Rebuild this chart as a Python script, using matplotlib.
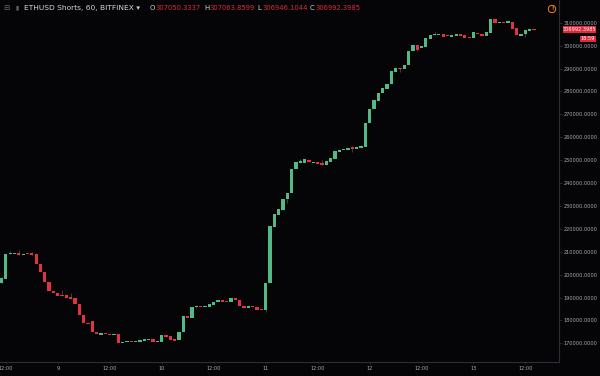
import matplotlib
matplotlib.use("Agg")
import matplotlib.pyplot as plt
from matplotlib.patches import Rectangle, Ellipse

# ---- data (hourly candles, ETHUSD Shorts, 60, BITFINEX) ----
opens = [196200, 198210, 208860, 209200, 209430, 208690, 209130, 209430, 208990, 204630,
         201000, 196900, 192840, 191960, 191090, 190960, 190080, 189650, 187160, 182360,
         179000, 179610, 175070, 173760, 174370, 174190, 173490, 174190, 170000, 170570,
         171140, 170700, 170700, 171140, 171750, 171880, 170440, 170570, 173630, 173190,
         171880, 171440, 175070, 181920, 181180, 185720, 186290, 185720, 185980, 186860,
         188170, 188910, 188470, 188170, 189650, 189040, 186290, 185550, 186290, 185850,
         184980, 184410, 196460, 220920, 226160, 228210, 232880, 235630, 246110, 248870,
         248870, 250040, 248870, 249170, 248870, 247860, 249300, 250610, 253670, 254280,
         254540, 255720, 254980, 255420, 255590, 266200, 272180, 275940, 279170, 281180,
         283100, 288600, 290220, 289780, 291660, 297640, 300390, 298950, 299520, 303010,
         304500, 304630, 305200, 304500, 303760, 304320, 305070, 304630, 303890, 303450,
         305630, 305200, 304320, 305630, 311750, 310000, 310310, 310000, 310310, 307560,
         304320, 304940, 306510, 307050.3337]
closes = [198640, 208860, 209430, 209260, 208690, 209130, 209100, 208690, 204630, 201260,
          196900, 192840, 191960, 190780, 190780, 189910, 189470, 187160, 182230, 179000,
          178560, 174940, 173930, 174370, 173930, 173490, 174060, 170130, 170700, 171140,
          170700, 171140, 171440, 171880, 171800, 170570, 171140, 173630, 172750, 171440,
          171000, 174800, 181920, 181180, 185850, 186290, 185720, 186290, 187160, 188170,
          188780, 188170, 188170, 189650, 188910, 186290, 185550, 186290, 185720, 184670,
          184410, 196460, 221220, 226460, 228520, 233150, 235500, 246110, 249040, 249480,
          250480, 249040, 249170, 248300, 247860, 249610, 250790, 253840, 254540, 254850,
          255280, 254850, 255590, 256030, 266330, 272450, 276250, 279430, 281350, 283230,
          288910, 290220, 289780, 291530, 297640, 300390, 298080, 299830, 303320, 304760,
          305070, 305070, 303890, 304190, 304760, 305070, 304320, 303450, 303450, 305810,
          304940, 304190, 305810, 311750, 310000, 310310, 310000, 310610, 307380, 304500,
          305200, 306810, 307250, 306992.3985]
# visible wick extremes (bar index -> price)
wick_high = {0: 199080, 2: 210310, 4: 210740, 7: 209870, 14: 193270, 16: 191830,
             45: 186720, 69: 250610, 74: 250040, 81: 256160, 83: 256730, 100: 305810,
             123: 307063.8599}
wick_low = {45: 185280, 61: 183800, 66: 231140, 81: 253670, 92: 288600, 96: 297510,
            121: 303760, 123: 306946.1044}

tick_pos = [1, 13, 25, 37, 49, 61, 73, 85, 97, 109, 121]
tick_lab = ["12:00", "9", "12:00", "10", "12:00", "11", "12:00", "12", "12:00", "13", "12:00"]
price_ticks = list(range(170000, 310001, 10000))

last_price = "306992.3985"
countdown = "18:59"
header_name = "ETHUSD Shorts, 60, BITFINEX"
ohlc_vals = ["307050.3337", "307063.8599", "306946.1044", "306992.3985"]

# ---- style ----
BG = "#050507"
GREEN = "#53b987"
RED = "#e33342"
WICK = "#444a58"
AXC = "#2a2e39"
TXT = "#a9acb5"

W, H = 600, 376
fig = plt.figure(figsize=(W / 100, H / 100), dpi=100)
fig.patch.set_facecolor(BG)
ax = fig.add_axes([0, 14 / H, 559 / W, 362 / H])
ax.set_facecolor(BG)

MINB = 450  # minimum drawn body height (about 1 px)
n = len(closes)
for i in range(n):
    o, c = opens[i], closes[i]
    col = GREEN if c >= o else RED
    hi = wick_high.get(i, max(o, c))
    lo = wick_low.get(i, min(o, c))
    if hi > max(o, c) or lo < min(o, c):
        ax.vlines(i, lo, hi, color=WICK, linewidth=0.6, zorder=1)
    h = c - o
    if abs(h) < MINB:
        mid = (o + c) / 2
        ax.bar(i, MINB, bottom=mid - MINB / 2, width=0.76, color=col, linewidth=0,
               zorder=2)
    else:
        ax.bar(i, h, bottom=o, width=0.76, color=col, linewidth=0, zorder=2)

ax.set_xlim(-0.35, 128.75)
ax.set_ylim(161834, 319913)

for s in ["top", "left"]:
    ax.spines[s].set_visible(False)
for s in ["bottom", "right"]:
    ax.spines[s].set_color(AXC)
    ax.spines[s].set_linewidth(0.8)

ax.yaxis.tick_right()
ax.set_yticks(price_ticks)
ax.set_yticklabels([f"{p}.0000" for p in price_ticks])
ax.tick_params(axis="y", length=2.0, width=0.6, color=AXC, pad=1.2,
               labelsize=3.6, labelcolor=TXT)
ax.set_xticks(tick_pos)
ax.set_xticklabels(tick_lab)
ax.tick_params(axis="x", length=1.6, width=0.6, color=AXC, pad=1.5,
               labelsize=3.6, labelcolor=TXT)


def px(x, y):
    return x / W, 1 - y / H


# last price label boxes
fig.patches.append(Rectangle(px(563, 33.3), 33 / W, 7.3 / H, transform=fig.transFigure,
                             facecolor="#e0293b", edgecolor="none"))
fig.text(579.5 / W, 1 - 29.6 / H, last_price, color="white", fontsize=3.6,
         ha="center", va="center")
fig.patches.append(Rectangle(px(580, 42.3), 16 / W, 6.6 / H, transform=fig.transFigure,
                             facecolor="#e0293b", edgecolor="none"))
fig.text(588 / W, 1 - 39 / H, countdown, color="white", fontsize=3.6,
         ha="center", va="center")

# header
HY = 1 - 8.3 / H
fig.text(3 / W, HY, "\u229f", color="#6a6d78", fontsize=5.3, va="center")
fig.text(15 / W, HY, "\u25ae", color="#6a6d78", fontsize=4, va="center")
fig.text(24 / W, HY, header_name + " \u25be", color="#d1d4dc", fontsize=5.4,
         va="center")
labels = ["O", "H", "L", "C"]
xpos = [150, 204, 257, 310]
for lab, x0, v in zip(labels, xpos, ohlc_vals):
    fig.text(x0 / W, HY, lab, color="#d1d4dc", fontsize=5.0, va="center")
    fig.text((x0 + 5.5) / W, HY, v, color="#e0293b", fontsize=4.9, va="center")

# warning icon
fig.patches.append(Ellipse(px(552, 9), 7.4 / W, 7.4 / H, transform=fig.transFigure,
                           facecolor="none", edgecolor="#f57f17", linewidth=0.7))
fig.text(552 / W, 1 - 9 / H, "!", color="#f57f17", fontsize=4, ha="center",
         va="center", fontweight="bold")

fig.savefig("out.png", dpi=100, facecolor=BG)
